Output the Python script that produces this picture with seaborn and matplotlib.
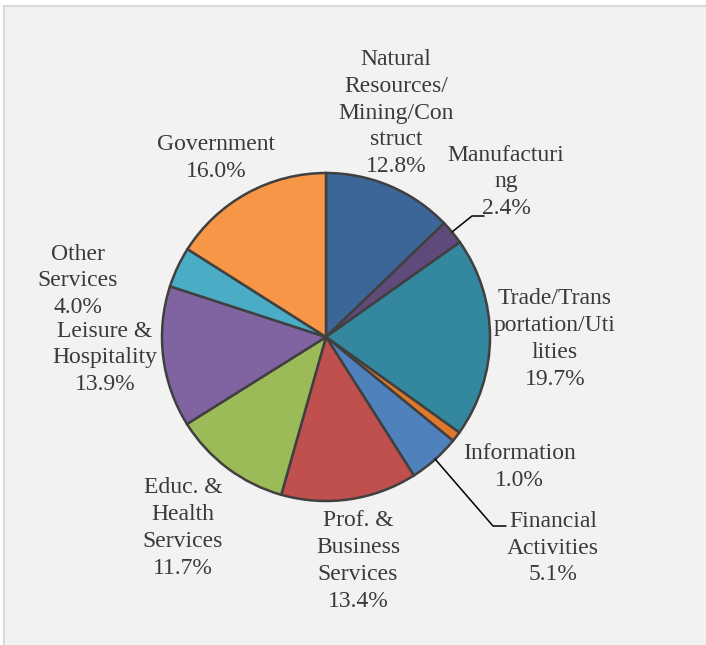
import numpy as np
import seaborn as sns
import matplotlib.pyplot as plt
from matplotlib.patches import Rectangle

# --- data ---
sectors = ['Natural\nResources/\nMining/Con\nstruct', 'Manufacturi\nng', 'Trade/Trans\nportation/Uti\nlities',
           'Information', 'Financial\nActivities', 'Prof. &\nBusiness\nServices', 'Educ. &\nHealth\nServices',
           'Leisure &\nHospitality', 'Other\nServices', 'Government']
shares = [12.8, 2.4, 19.7, 1.0, 5.1, 13.4, 11.7, 13.9, 4.0, 16.0]
colors = ['#3C6598', '#604A7B', '#33879E', '#E0782A', '#4F81BD',
          '#C0504D', '#9BBB59', '#8064A2', '#4BACC6', '#F79646']

# label placement (pixel coords, top-left origin) and leader lines
label_pos = [(396, 113), (506, 182), (555, 339), (519, 467), (553, 548),
             (358, 561), (183, 528), (105, 358), (78, 281), (216, 158)]
leaders = {1: [(452, 232), (472, 216), (484, 216)],
           4: [(435, 459), (493, 526), (506, 526)]}

sns.set_style("white")
plt.rcParams['font.family'] = ['Liberation Serif', 'DejaVu Serif']

W, H = 706, 645
fig = plt.figure(figsize=(W / 100, H / 100), dpi=100, facecolor='white')
fig.patches.append(Rectangle((4 / W, -0.1), 1.2, 1.1 - 6 / H, transform=fig.transFigure,
                             facecolor='#F2F2F2', edgecolor='#D9D9D9', linewidth=1.5, zorder=-5))
ax = fig.add_axes([0, 0, 1, 1])
ax.patch.set_alpha(0)

ax.pie(shares, colors=colors, startangle=90, counterclock=False,
       center=(326, H - 337), radius=164,
       wedgeprops=dict(edgecolor='#404040', linewidth=1.8))
ax.set_xlim(0, W)
ax.set_ylim(0, H)
ax.set_aspect('equal')
ax.axis('off')

for i, (name, val) in enumerate(zip(sectors, shares)):
    x, y = label_pos[i]
    ax.text(x, H - y, f"{name}\n{val:.1f}%", ha='center', va='center',
            fontsize=17, color='#3A3A3A', linespacing=1.36)

for pts in leaders.values():
    xs = [p[0] for p in pts]
    ys = [H - p[1] for p in pts]
    ax.plot(xs, ys, color='black', linewidth=1.1)

fig.savefig('out.png', dpi=100, facecolor=fig.get_facecolor())
